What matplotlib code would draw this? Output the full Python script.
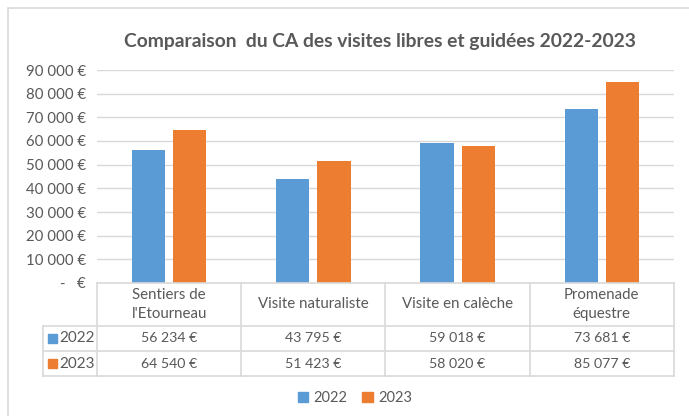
import matplotlib.pyplot as plt
from matplotlib.patches import Rectangle
from matplotlib.lines import Line2D

plt.rcParams['font.family'] = ['Lato', 'DejaVu Sans']

categories = ["Sentiers de\nl'Etourneau", "Visite naturaliste", "Visite en calèche", "Promenade\néquestre"]
years = ['2022', '2023']
ca_2022 = [56234, 43795, 59018, 73681]
ca_2023 = [64540, 51423, 58020, 85077]
yticks = [0, 10000, 20000, 30000, 40000, 50000, 60000, 70000, 80000, 90000]

BLUE = '#5B9BD5'
ORANGE = '#ED7D31'
GRID = '#D9D9D9'
TXT = '#595959'

W, H = 689, 416


def euro(v):
    if v == 0:
        return '-   €'
    return '{:,}'.format(v).replace(',', ' ') + ' €'


fig = plt.figure(figsize=(W / 100, H / 100), dpi=100)

# outer chart frame
fig.patches.append(Rectangle((8 / W, -0.05), 1.1, 1 - 8 / H + 0.05, transform=fig.transFigure,
                             fill=False, edgecolor=GRID, lw=1.2))

px_l, px_r, px_top, px_zero = 97, 674, 70, 283
ax = fig.add_axes([px_l / W, 1 - px_zero / H, (px_r - px_l) / W, (px_zero - px_top) / H])
x = range(len(categories))
bw = 0.229
off = 0.143
ax.bar([i - off for i in x], ca_2022, width=bw, color=BLUE, zorder=3)
ax.bar([i + off for i in x], ca_2023, width=bw, color=ORANGE, zorder=3)
ax.set_xlim(-0.5, len(categories) - 0.5)
ax.set_ylim(0, 90000)
ax.set_yticks(yticks)
ax.set_yticklabels([euro(v) for v in yticks], fontsize=10.8, color=TXT)
ax.tick_params(axis='y', length=0, pad=8)
ax.set_xticks([])
ax.grid(axis='y', color=GRID, lw=1, zorder=0)
for s in ax.spines.values():
    s.set_visible(False)

fig.text(380 / W, 1 - 42 / H, 'Comparaison  du CA des visites libres et guidées 2022-2023',
         ha='center', va='center', fontsize=13.9, fontweight='bold', color=TXT)

# data table under the plot
t_left, t_bot = 43, 376
cw = (px_r - px_l) / len(categories)
ext = (px_l - t_left) / cw
tax = fig.add_axes([t_left / W, 1 - t_bot / H, (px_r - t_left) / W, (t_bot - px_zero) / H])
tax.set_xlim(-0.5 - ext, len(categories) - 0.5)
tax.set_ylim(t_bot - px_zero, 0)
tax.axis('off')
rows = [0, 43, 68, t_bot - px_zero]
lc = dict(color=GRID, lw=1.2, clip_on=False)
xl, xr = -0.5 - ext, len(categories) - 0.5
tax.add_line(Line2D([-0.5, xr], [rows[0], rows[0]], **lc))
for r in rows[1:]:
    tax.add_line(Line2D([xl, xr], [r, r], **lc))
tax.add_line(Line2D([xl, xl], [rows[1], rows[3]], **lc))
for b in [i - 0.5 for i in range(len(categories) + 1)]:
    tax.add_line(Line2D([b, b], [rows[0], rows[3]], **lc))

for i, c in enumerate(categories):
    tax.text(i, (rows[0] + rows[1]) / 2, c, ha='center', va='center', fontsize=10.8,
             color=TXT, linespacing=1.45)
    tax.text(i, (rows[1] + rows[2]) / 2, euro(ca_2022[i]), ha='center', va='center', fontsize=10.2, color=TXT)
    tax.text(i, (rows[2] + rows[3]) / 2, euro(ca_2023[i]), ha='center', va='center', fontsize=10.2, color=TXT)

sq = 9 / cw
for k, (yr, col) in enumerate(zip(years, [BLUE, ORANGE])):
    yc = (rows[k + 1] + rows[k + 2]) / 2
    tax.add_patch(Rectangle((xl + 5 / cw, yc - 4.5), sq, 9, color=col, clip_on=False))
    tax.text(xl + 16 / cw, yc, yr, ha='left', va='center', fontsize=11, color=TXT)

handles = [Rectangle((0, 0), 1, 1, color=BLUE), Rectangle((0, 0), 1, 1, color=ORANGE)]
fig.legend(handles, years, loc='center', bbox_to_anchor=(355 / W, 1 - 398 / H), ncol=2, frameon=False,
           fontsize=10.5, handlelength=0.7, handleheight=0.7, handletextpad=0.4, columnspacing=1.0,
           labelcolor=TXT)

fig.savefig('out.png', dpi=100)
